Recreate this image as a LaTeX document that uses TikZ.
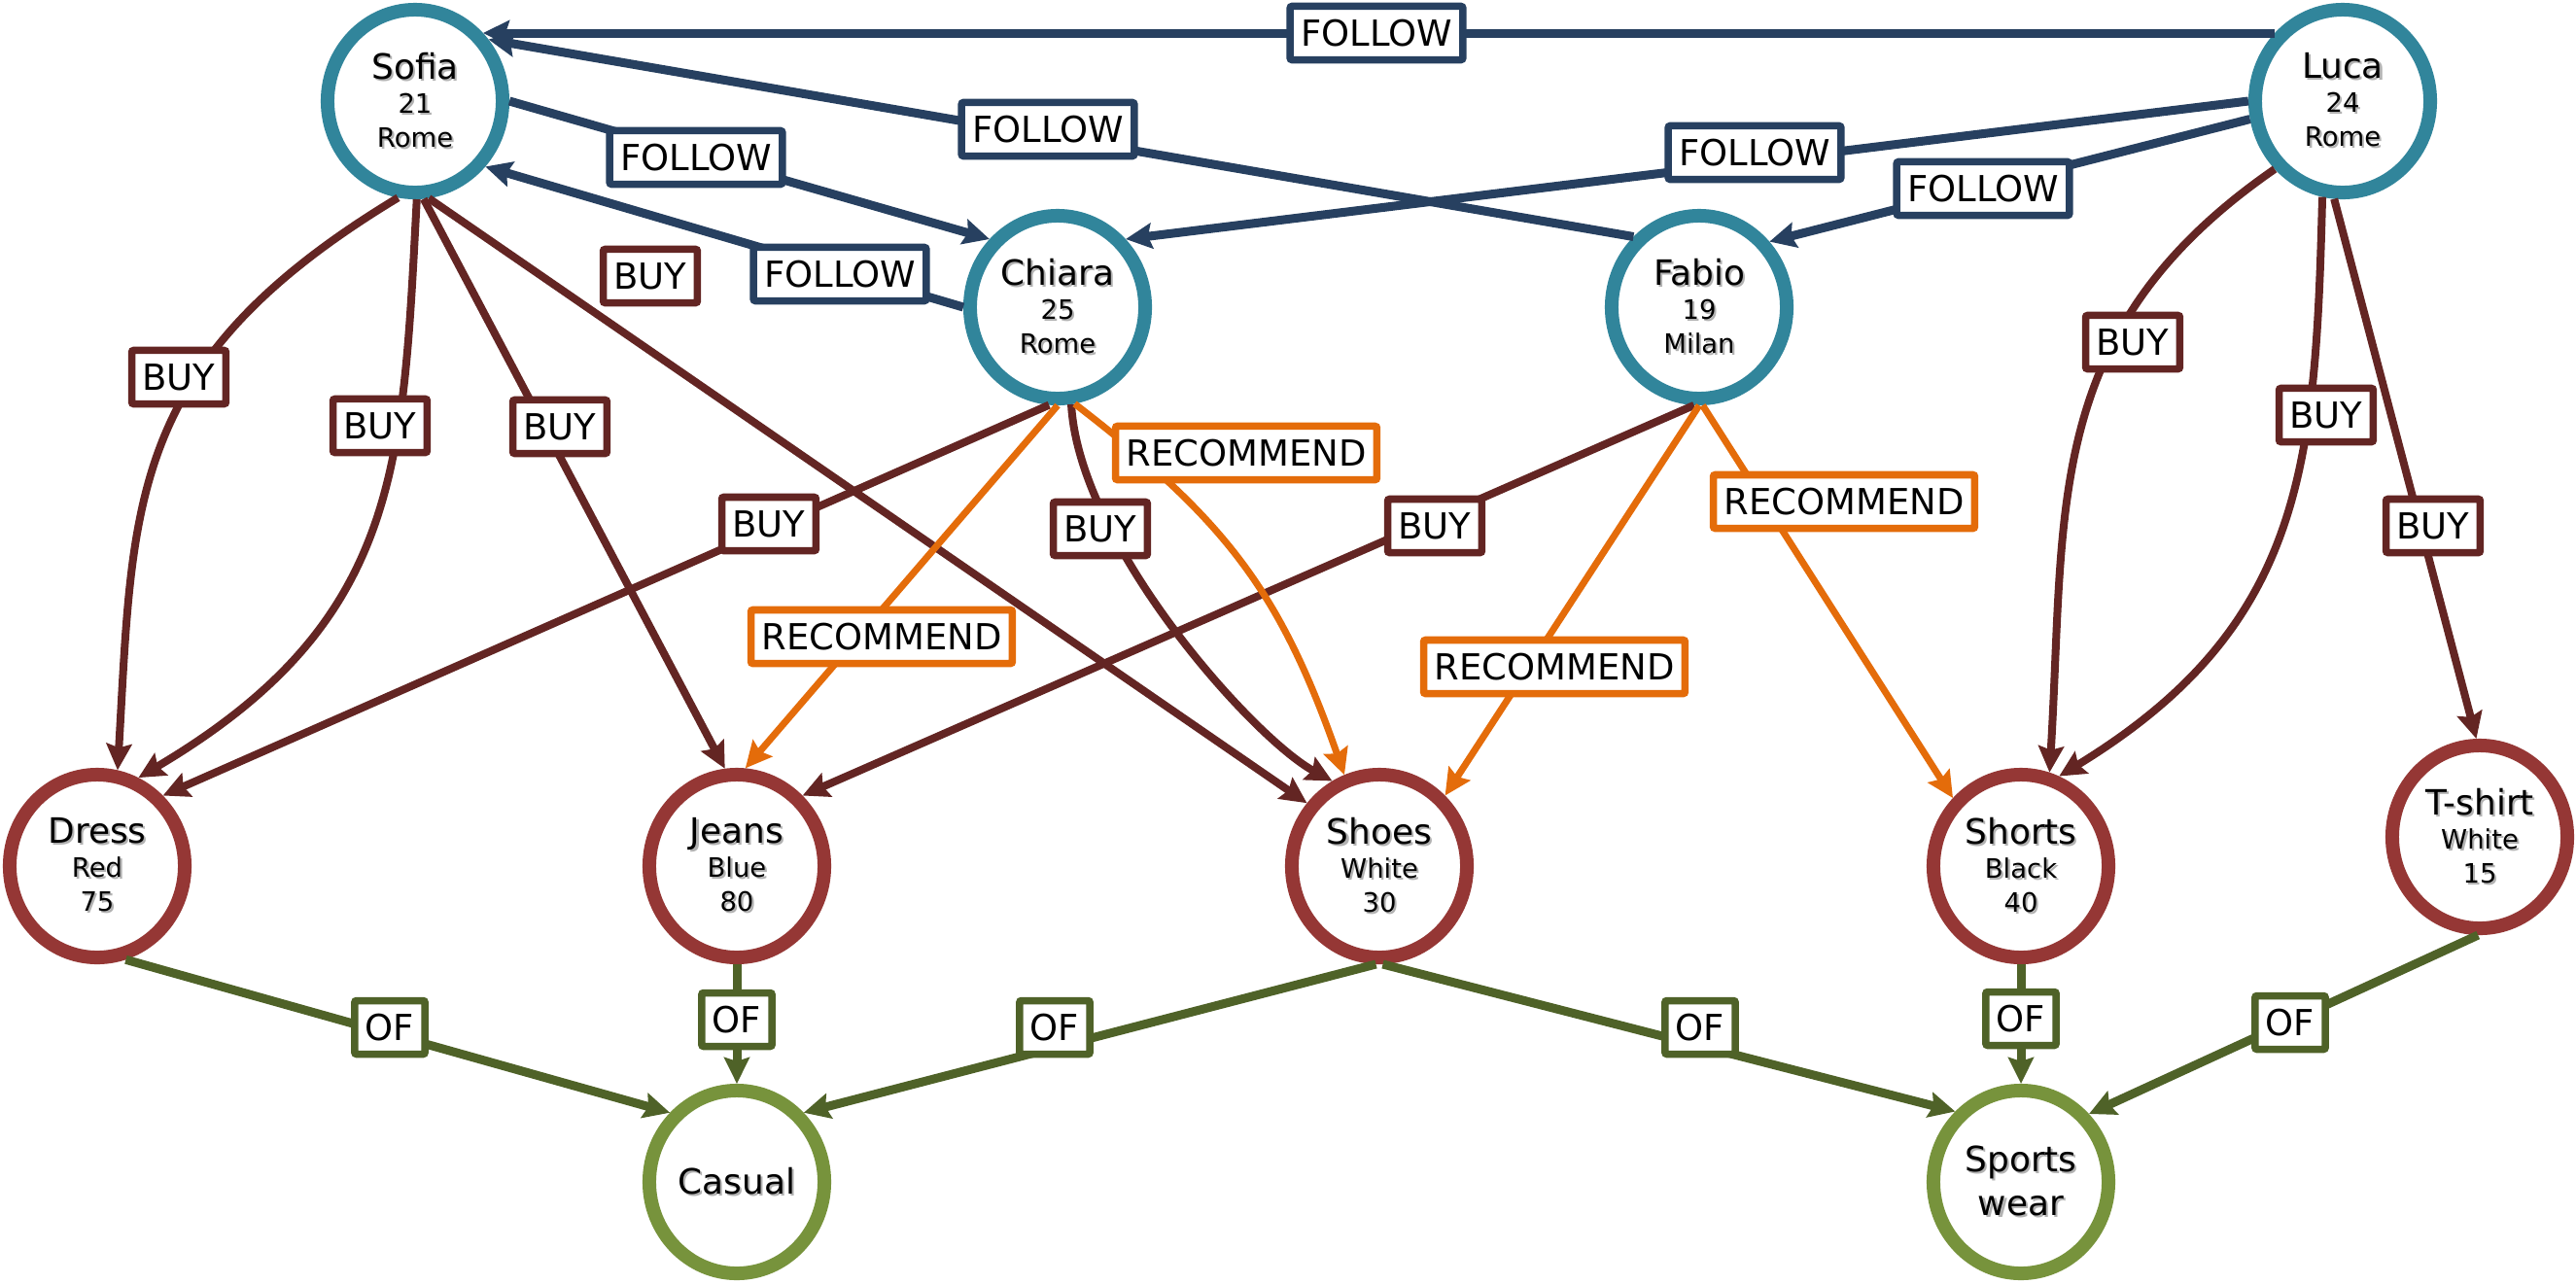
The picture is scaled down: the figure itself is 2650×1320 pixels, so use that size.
\documentclass[tikz,border=0pt]{standalone}
\usepackage{fontspec}
\setmainfont{DejaVu Sans}
\usetikzlibrary{arrows.meta,shapes.geometric}

\definecolor{personc}{RGB}{49,133,155}
\definecolor{productc}{RGB}{149,55,53}
\definecolor{catc}{RGB}{119,147,60}
\definecolor{followc}{RGB}{39,64,96}
\definecolor{buyc}{RGB}{99,37,35}
\definecolor{recc}{RGB}{228,108,10}
\definecolor{ofc}{RGB}{79,98,40}

% fonts
\newcommand\nmf{\fontsize{10.2pt}{12pt}\selectfont}
\newcommand\sbf{\fontsize{7.8pt}{9pt}\selectfont}
\newcommand\lbf{\fontsize{10.5pt}{12pt}\selectfont}
% text with a soft drop shadow
\newcommand\shd[1]{\leavevmode\rlap{\kern0.6pt\raisebox{-0.6pt}{\textcolor{black!30}{#1}}}#1}
% entity text: name, then two smaller attribute lines
\newcommand\ent[3]{\vbox{\baselineskip=0.35cm\lineskiplimit=-20pt
  \halign{\hfil##\hfil\cr\nmf\shd{#1}\cr\sbf\shd{#2}\cr\sbf\shd{#3}\cr}}}
\newcommand\twoline[2]{\vbox{\baselineskip=0.45cm\lineskiplimit=-20pt
  \halign{\hfil##\hfil\cr\nmf\shd{#1}\cr\nmf\shd{#2}\cr}}}

\tikzset{
  entity/.style={ellipse, draw, line width=0.14cm, fill=white,
    minimum width=1.8cm, minimum height=1.88cm, inner sep=0pt},
  person/.style={entity, draw=personc},
  product/.style={entity, draw=productc},
  category/.style={entity, draw=catc},
  rel/.style={-{Stealth[length=0.27cm,width=0.26cm,inset=0.04cm]}},
  followln/.style={rel, draw=followc, line width=0.09cm},
  buyln/.style={rel, draw=buyc, line width=0.08cm},
  recln/.style={rel, draw=recc, line width=0.07cm},
  ofln/.style={rel, draw=ofc, line width=0.09cm},
  tag/.style={draw, fill=white, line width=0.075cm, inner xsep=0.11cm,
    inner ysep=0pt, minimum height=0.55cm, font=\lbf, rounded corners=0.02cm},
  followtag/.style={tag, draw=followc},
  buytag/.style={tag, draw=buyc},
  rectag/.style={tag, draw=recc},
  oftag/.style={tag, draw=ofc},
}

\begin{document}
\begin{tikzpicture}[x=0.01cm, y=-0.01cm]
\useasboundingbox (0,0) rectangle (2650,1320);

% people
\node[person] (sofia)  at (427,104)  {\ent{Sofia}{21}{Rome}};
\node[person] (luca)   at (2410,104) {\ent{Luca}{24}{Rome}};
\node[person] (chiara) at (1088,316) {\ent{Chiara}{25}{Rome}};
\node[person] (fabio)  at (1748,316) {\ent{Fabio}{19}{Milan}};

% products
\node[product] (dress)  at (100,891)  {\ent{Dress}{Red}{75}};
\node[product] (jeans)  at (758,891)  {\ent{Jeans}{Blue}{80}};
\node[product] (shoes)  at (1419,891) {\ent{Shoes}{White}{30}};
\node[product] (shorts) at (2079,891) {\ent{Shorts}{Black}{40}};
\node[product] (tshirt) at (2551,861) {\ent{T-shirt}{White}{15}};

% categories
\node[category] (casual) at (758,1216)  {\nmf\shd{Casual}};
\node[category] (sports) at (2079,1216) {\twoline{Sports}{wear}};

% FOLLOW
\draw[followln] (luca.135) -- (sofia.45);
\draw[followln] (fabio.133) -- (sofia.40);
\draw[followln] (sofia.0) -- (chiara.135);
\draw[followln] (chiara.180) -- (sofia.-43);
\draw[followln] (luca.180) -- (chiara.45);
\draw[followln] (luca.-169) -- (fabio.43);

% BUY
\draw[buyln] (sofia.-100) .. controls (130,372) and (137,516) .. (dress.78);
\draw[buyln] (sofia.-89) .. controls (414,480) and (413,640) .. (dress.65);
\draw[buyln] (sofia.-85) -- (jeans.97);
\draw[buyln] (sofia.-82) -- (shoes.139);
\draw[buyln] (chiara.-95) -- (dress.47);
\draw[buyln] (chiara.-82) .. controls (1110,560) and (1290,760) .. (shoes.119);
\draw[buyln] (fabio.-93) -- (jeans.47);
\draw[buyln] (luca.-135) .. controls (2100,340) and (2125,520) .. (shorts.73);
\draw[buyln] (luca.-102) .. controls (2382,480) and (2370,645) .. (shorts.67);
\draw[buyln] (luca.-95) -- (tshirt.92);

% RECOMMEND
\draw[recln] (chiara.-90) -- (jeans.85);
\draw[recln] (chiara.-80) .. controls (1262,536) and (1317,609) .. (shoes.111);
\draw[recln] (fabio.-90) -- (shoes.47);
\draw[recln] (fabio.-88) -- (shorts.135);

% OF
\draw[ofln] (dress.-73) -- (casual.134);
\draw[ofln] (jeans.-90) -- (casual.90);
\draw[ofln] (shoes.-92) -- (casual.46);
\draw[ofln] (shoes.-88) -- (sports.133);
\draw[ofln] (shorts.-90) -- (sports.90);
\draw[ofln] (tshirt.-91) -- (sports.45);

% relation labels
\node[followtag] (f1) at (1416,34)  {FOLLOW};
\node[followtag] (f2) at (1078,133) {FOLLOW};
\node[followtag] (f3) at (716,162)  {FOLLOW};
\node[followtag] (f4) at (864,282)  {FOLLOW};
\node[followtag] (f5) at (1805,157) {FOLLOW};
\node[followtag] (f6) at (2040,194) {FOLLOW};

\node[buytag] (b0)  at (669,284)  {BUY};
\node[buytag] (b1)  at (184,388)  {BUY};
\node[buytag] (b2)  at (391,438)  {BUY};
\node[buytag] (b3)  at (576,439)  {BUY};
\node[buytag] (b5)  at (791,539)  {BUY};
\node[buytag] (b6)  at (1132,544) {BUY};
\node[buytag] (b7)  at (1476,541) {BUY};
\node[buytag] (b8)  at (2194,352) {BUY};
\node[buytag] (b9)  at (2393,427) {BUY};
\node[buytag] (b10) at (2503,541) {BUY};

\node[rectag] (r1) at (907,655)  {RECOMMEND};
\node[rectag] (r2) at (1282,466) {RECOMMEND};
\node[rectag] (r3) at (1599,686) {RECOMMEND};
\node[rectag] (r4) at (1897,516) {RECOMMEND};

\node[oftag] (o1) at (401,1057)  {OF};
\node[oftag] (o2) at (758,1049)  {OF};
\node[oftag] (o3) at (1085,1057) {OF};
\node[oftag] (o4) at (1749,1057) {OF};
\node[oftag] (o5) at (2079,1048) {OF};
\node[oftag] (o6) at (2356,1052) {OF};
\end{tikzpicture}
\end{document}
